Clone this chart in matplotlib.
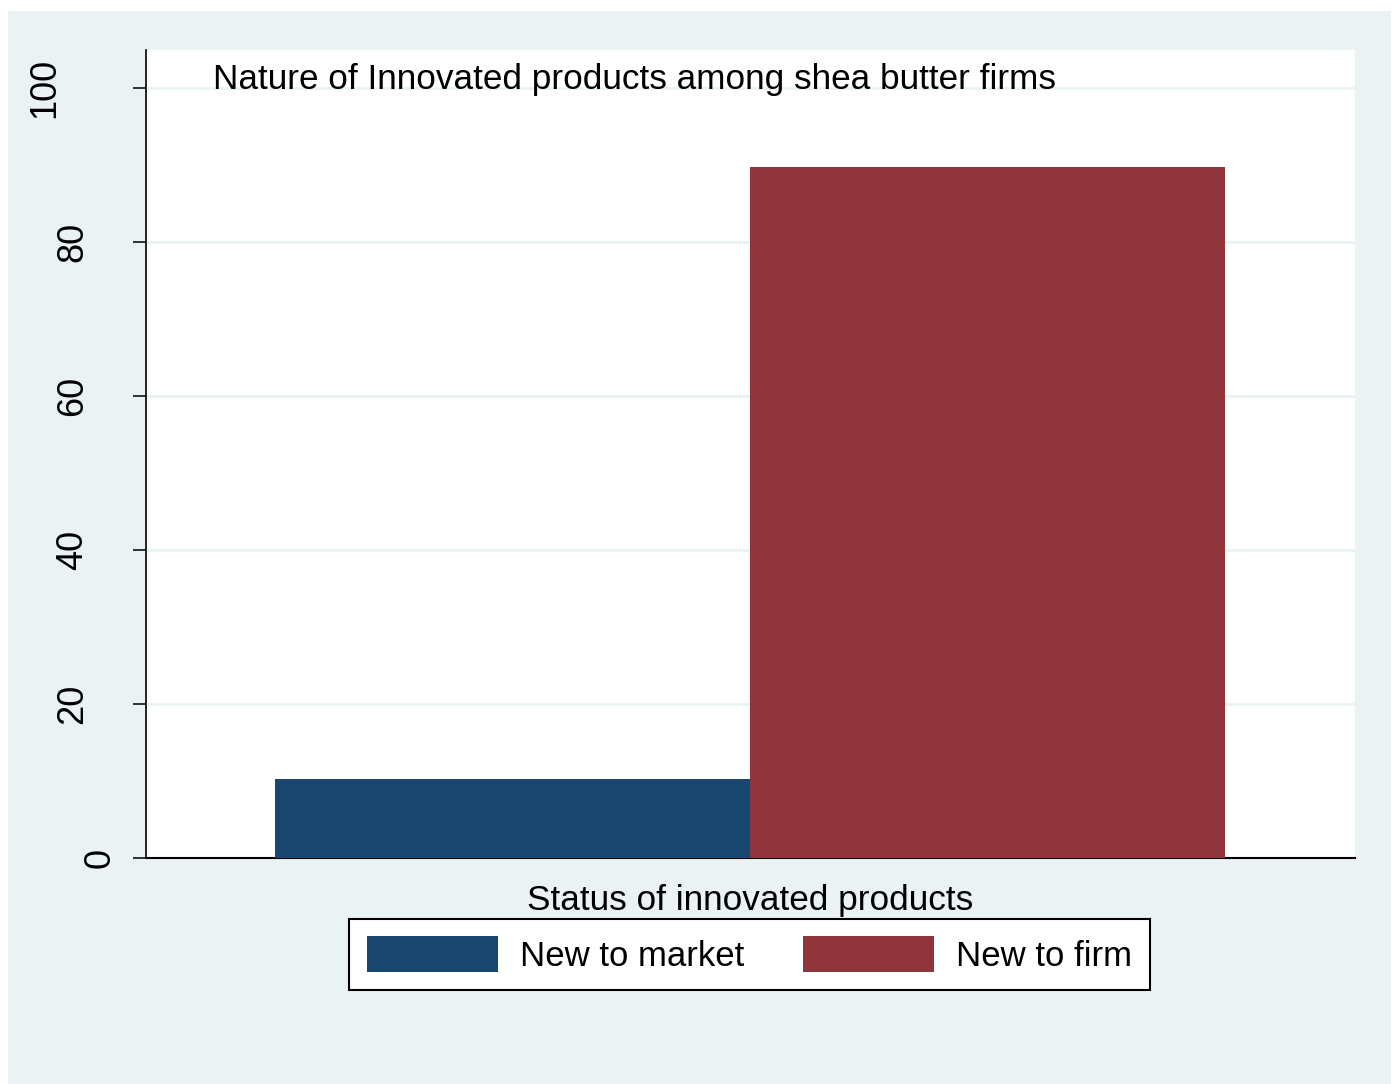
import matplotlib.pyplot as plt
import matplotlib.transforms as mtransforms
from matplotlib.patches import Rectangle

plt.rcParams['font.family'] = ['Liberation Sans', 'DejaVu Sans']

categories = ['New to market', 'New to firm']
values = [10.26, 89.74]
colors = ['#1a476f', '#90353b']
yticks = [0, 20, 40, 60, 80, 100]
title = 'Nature of Innovated products among shea butter firms'
xlabel = 'Status of innovated products'
bg = '#eaf2f3'

W, H = 1392, 1084
fig = plt.figure(figsize=(W/100, H/100), dpi=100, facecolor='white')
# stata style outer panel (thin white margin at left/top)
fig.patches.append(Rectangle((8/W, 0), (1391-8)/W, (1073)/H, transform=fig.transFigure,
                             facecolor=bg, edgecolor='none', zorder=-10))

ax = fig.add_axes([146/W, 1-858/H, (1355-146)/W, (858-50)/H])
ax.set_facecolor('white')

for i, (cat, v, c) in enumerate(zip(categories, values, colors)):
    ax.bar(i, v, width=1.0, color=c, label=cat, zorder=3)

ax.set_xlim(-0.7716, 1.7737)
ax.set_ylim(0, 104.9)
ax.set_xticks([])
ax.set_yticks(yticks)
ax.set_yticklabels([str(t) for t in yticks], rotation=90, va='center', fontsize=26)
ax.tick_params(axis='y', length=9.4, width=1.1, pad=31, color='black')
ax.grid(axis='y', color=bg, linewidth=2, zorder=1)

for s in ['top', 'right']:
    ax.spines[s].set_visible(False)
ax.spines['left'].set_linewidth(1.2)
ax.spines['bottom'].set_linewidth(1.5)

# stata shifts rotated labels by their length
for tick in ax.yaxis.get_major_ticks():
    n = len(tick.label1.get_text())
    dx = -(n - 2) * 28 * 72 / 100
    tick.label1.set_transform(tick.label1.get_transform() +
                              mtransforms.ScaledTranslation(dx/72, 0, fig.dpi_scale_trans))

ax.text((213-146)/1209, (858-79)/808, title, transform=ax.transAxes,
        fontsize=25.3, ha='left', va='center', zorder=5)

ax.set_xlabel(xlabel, fontsize=25.3, labelpad=19)

leg = fig.legend(loc='center', bbox_to_anchor=(749.5/W, 1-954.5/H), ncol=2,
                 fontsize=25, handlelength=3.77, handleheight=1.22,
                 handletextpad=0.63, columnspacing=1.72, borderpad=0.5,
                 fancybox=False, framealpha=1, edgecolor='black')
leg.get_frame().set_linewidth(1.5)

fig.savefig('out.png', dpi=100, facecolor=fig.get_facecolor())
